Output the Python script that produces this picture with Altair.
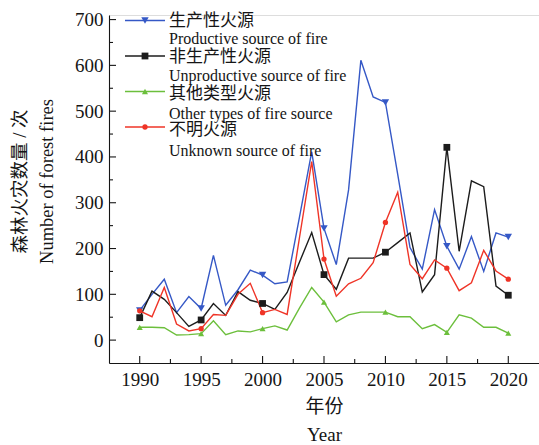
import altair as alt
import pandas as pd

# ---- data -----------------------------------------------------------------
years = list(range(1990, 2021))

series_keys = ["productive", "unproductive", "other", "unknown"]
series_zh = ["生产性火源", "非生产性火源", "其他类型火源", "不明火源"]
series_en = [
    "Productive source of fire",
    "Unproductive source of fire",
    "Other types of fire source",
    "Unknown source of fire",
]

productive = [65, 100, 133, 60, 95, 69, 185, 76, 110, 153, 142, 123, 127, 268, 411,
              244, 165, 328, 611, 531, 519, 362, 202, 155, 285, 205, 155, 226, 150, 234, 225]
unproductive = [49, 107, 89, 60, 30, 44, 80, 54, 106, 87, 80, 67, 104, 170, 235,
                143, 111, 179, 179, 179, 192, 213, 234, 105, 143, 421, 194, 348, 335, 118, 98]
other = [28, 28, 27, 11, 12, 14, 42, 12, 20, 18, 25, 31, 22, 70, 115,
         83, 40, 55, 61, 61, 61, 51, 51, 25, 34, 17, 55, 48, 28, 28, 15]
unknown = [64, 51, 115, 35, 20, 25, 56, 54, 100, 124, 60, 67, 56, 223, 390,
           177, 96, 123, 135, 169, 257, 323, 165, 134, 175, 157, 108, 125, 196, 151, 133]

x_major = [1990, 1995, 2000, 2005, 2010, 2015, 2020]
x_minor = [1992.5, 1997.5, 2002.5, 2007.5, 2012.5, 2017.5]
y_major = [0, 100, 200, 300, 400, 500, 600, 700]
y_minor = [50, 150, 250, 350, 450, 550, 650]

# ---- styling --------------------------------------------------------------
colors = ["#3558c6", "#1c1c1c", "#6cbf3c", "#ef3427"]
shapes = ["triangle-down", "square", "triangle-up", "circle"]
marker_sizes = [55, 28, 55, 42]
FONT = "Liberation Serif, Noto Sans CJK SC"
INK = "#151515"
W, H = 430, 348

records = []
for key, vals in zip(series_keys, [productive, unproductive, other, unknown]):
    for yr, v in zip(years, vals):
        records.append({"year": yr, "count": v, "series": key})
df = pd.DataFrame(records)

x_scale = alt.Scale(domain=[1987.5, 2022.5], nice=False, zero=False)
y_scale = alt.Scale(domain=[-50, 710], nice=False, zero=False)
color_scale = alt.Scale(domain=series_keys, range=colors)
shape_scale = alt.Scale(domain=series_keys, range=shapes)
size_scale = alt.Scale(domain=series_keys, range=marker_sizes)

x_axis = alt.Axis(
    values=x_major, format="d", grid=False, ticks=False, tickSize=0,
    labelFont=FONT, labelFontSize=19, labelColor=INK, labelPadding=7,
    domainColor=INK, domainWidth=1.1,
    title=["年份", "Year"], titleFont=FONT, titleFontSize=19, titleFontWeight="normal",
    titleColor=INK, titleLineHeight=28, titleX=W / 2, titleY=34,
    titleAlign="center", titleBaseline="top",
)
y_axis = alt.Axis(
    values=y_major, grid=False, ticks=False, tickSize=0,
    labelFont=FONT, labelFontSize=19, labelColor=INK, labelPadding=6,
    domainColor=INK, domainWidth=1.1,
    title=["森林火灾数量 / 次", "Number of forest fires"], titleFont=FONT,
    titleFontSize=18.5, titleFontWeight="normal", titleColor=INK,
    titleLineHeight=27, titleAngle=270, titleAlign="center",
    titleBaseline="alphabetic", titleX=-84, titleY=166,
)

lines = alt.Chart(df).mark_line(strokeWidth=1.4).encode(
    x=alt.X("year:Q", scale=x_scale, axis=x_axis),
    y=alt.Y("count:Q", scale=y_scale, axis=y_axis),
    color=alt.Color("series:N", scale=color_scale, legend=None),
)

markers = alt.Chart(df).transform_filter("datum.year % 5 == 0").mark_point(
    filled=True, opacity=1
).encode(
    x=alt.X("year:Q", scale=x_scale),
    y=alt.Y("count:Q", scale=y_scale),
    color=alt.Color("series:N", scale=color_scale, legend=None),
    shape=alt.Shape("series:N", scale=shape_scale, legend=None),
    size=alt.Size("series:N", scale=size_scale, legend=None),
)

# inward-pointing tick marks
xt_major = alt.Chart(pd.DataFrame({"year": x_major})).mark_rule(color=INK, strokeWidth=1.1).encode(
    x=alt.X("year:Q", scale=x_scale), y=alt.value(H), y2=alt.value(H - 7))
xt_minor = alt.Chart(pd.DataFrame({"year": x_minor})).mark_rule(color=INK, strokeWidth=1.1).encode(
    x=alt.X("year:Q", scale=x_scale), y=alt.value(H), y2=alt.value(H - 4))
yt_major = alt.Chart(pd.DataFrame({"count": y_major})).mark_rule(color=INK, strokeWidth=1.1).encode(
    y=alt.Y("count:Q", scale=y_scale), x=alt.value(0), x2=alt.value(7))
yt_minor = alt.Chart(pd.DataFrame({"count": y_minor})).mark_rule(color=INK, strokeWidth=1.1).encode(
    y=alt.Y("count:Q", scale=y_scale), x=alt.value(0), x2=alt.value(4))

# legend in the upper-left corner of the plot
legend_df = pd.DataFrame({"series": series_keys, "zh": series_zh, "en": series_en,
                          "row": list(range(len(series_keys)))})
leg = alt.Chart(legend_df).transform_calculate(
    ly_mark="5.5 + 35.5 * datum.row",
    ly_zh="11 + 36.3 * datum.row",
    ly_en="28.5 + 37.5 * datum.row",
)
leg_line = leg.mark_rule(strokeWidth=1.4).encode(
    x=alt.value(16), x2=alt.value(56),
    y=alt.Y("ly_mark:Q", scale=None),
    color=alt.Color("series:N", scale=color_scale, legend=None),
)
leg_mark = leg.mark_point(filled=True, opacity=1).encode(
    x=alt.value(36),
    y=alt.Y("ly_mark:Q", scale=None),
    color=alt.Color("series:N", scale=color_scale, legend=None),
    shape=alt.Shape("series:N", scale=shape_scale, legend=None),
    size=alt.Size("series:N", scale=size_scale, legend=None),
)
leg_zh = leg.mark_text(align="left", baseline="alphabetic", font=FONT, fontSize=17, color=INK).encode(
    x=alt.value(60), y=alt.Y("ly_zh:Q", scale=None), text="zh:N")
leg_en = leg.mark_text(align="left", baseline="alphabetic", font=FONT, fontSize=16, color=INK).encode(
    x=alt.value(60), y=alt.Y("ly_en:Q", scale=None), text="en:N")

chart = alt.layer(
    lines, markers, xt_major, xt_minor, yt_major, yt_minor,
    leg_line, leg_mark, leg_zh, leg_en,
).properties(
    width=W, height=H,
    padding={"left": 109, "top": 15, "right": 0, "bottom": 82},
    autosize=alt.AutoSizeParams(type="none"),
).configure_view(stroke=None).configure(background="white")

chart.save("out.html", embed_options={"renderer": "svg", "actions": False})
